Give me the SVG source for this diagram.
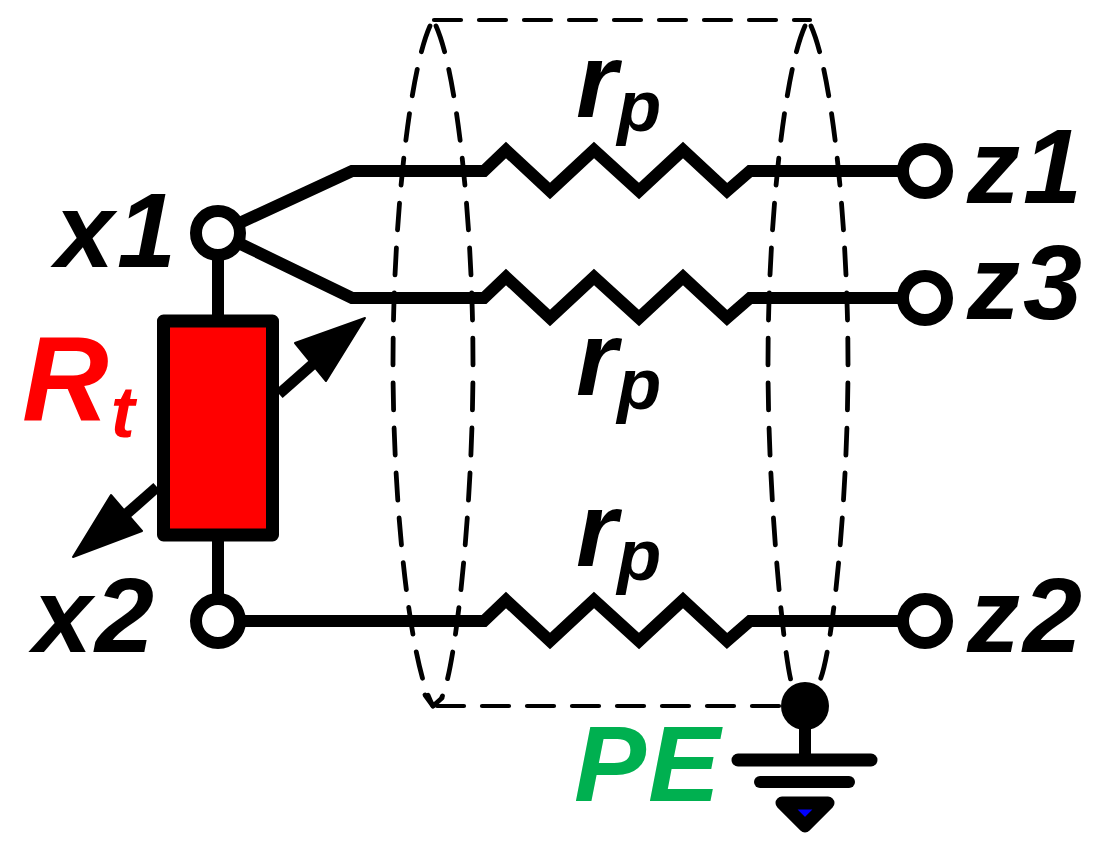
<svg xmlns="http://www.w3.org/2000/svg" width="1109" height="843" viewBox="0 0 1109 843">
<style>
text{font-family:"Liberation Sans",Arial,sans-serif;font-weight:bold;font-style:italic;fill:#000}
.w{fill:none;stroke:#000;stroke-width:12;stroke-linejoin:miter}
.d{fill:none;stroke:#000;stroke-width:4.2;stroke-linecap:round;stroke-dasharray:27 18}
.e{stroke-width:4.8}
.s{fill:none;stroke:#000;stroke-width:4.8;stroke-linecap:round;stroke-linejoin:round}
.t{fill:#fff;stroke:#000;stroke-width:12}
.m{font-size:106px}
.n{letter-spacing:3px}
.p{font-size:72px}
</style>
<rect width="1109" height="843" fill="#fff"/>
<g id="connectors">
<path class="w" d="M218 233L352 171H484L506 150L550 191L594 150L639 191L683 150L727 191L750 171H925"/>
<path class="w" d="M218 233L352 298H484L506 277L550 318L594 277L639 318L683 277L727 318L750 298H925"/>
<path class="w" d="M218 621H484L506 600L550 641L594 600L639 641L683 600L727 641L750 621H925"/>
<path class="w" d="M218 233V320M218 535V621M805 706V760"/>
<path d="M279 394L313 364" stroke="#000" stroke-width="11" fill="none"/>
<path d="M157 487L123 517" stroke="#000" stroke-width="11" fill="none"/>
<polygon points="365,318 295,343 326,381" fill="#000" stroke="#000" stroke-width="2" stroke-linejoin="round"/>
<polygon points="73,557 111,495 142,531" fill="#000" stroke="#000" stroke-width="2" stroke-linejoin="round"/>
</g>
<g id="cable">
<path class="d e" stroke-dashoffset="-7" d="M433 20C410 60 393 220 393 363C393 506 410 666 433 706"/>
<path class="d e" stroke-dashoffset="-7" d="M433 20C456 60 473 220 473 363C473 506 456 666 442 697"/>
<path class="d e" stroke-dashoffset="-7" d="M808 20C785 60 768 220 768 363C768 506 785 666 792 684"/>
<path class="d e" stroke-dashoffset="-7" d="M808 20C831 60 848 220 848 363C848 506 831 666 818 684"/>
<path class="d" d="M434 20H810"/>
<path class="d" d="M437 706H790"/>
<path class="s" d="M425 695L433 706L442 698"/>
</g>
<g id="Rt">
<rect x="163.5" y="321" width="109" height="214" fill="#f00" stroke="#000" stroke-width="13" stroke-linejoin="round"/>
<text x="22" y="421" style="font-size:120px;fill:#f00">R<tspan dy="16" dx="2" style="font-size:72px;fill:#f00">t</tspan></text>
</g>
<g id="x1"><circle class="t" cx="218" cy="233" r="22"/><text class="m n" x="55" y="267">x1</text></g>
<g id="x2"><circle class="t" cx="218" cy="621" r="22"/><text class="m n" x="33" y="652">x2</text></g>
<g id="z1"><circle class="t" cx="925" cy="171" r="22"/><text class="m n" x="967" y="203">z1</text></g>
<g id="z3"><circle class="t" cx="925" cy="298" r="22"/><text class="m n" x="967" y="319">z3</text></g>
<g id="z2"><circle class="t" cx="925" cy="621" r="22"/><text class="m n" x="967" y="652">z2</text></g>
<g id="rp1"><text class="m" x="576" y="117">r<tspan class="p" dy="14">p</tspan></text></g>
<g id="rp2"><text class="m" x="576" y="395">r<tspan class="p" dy="14">p</tspan></text></g>
<g id="rp3"><text class="m" x="576" y="566">r<tspan class="p" dy="14">p</tspan></text></g>
<g id="PE">
<circle cx="805" cy="706" r="24" fill="#000"/>
<path d="M738 760H871" stroke="#000" stroke-width="13" stroke-linecap="round"/>
<path d="M760 782H849" stroke="#000" stroke-width="12" stroke-linecap="round"/>
<polygon points="782,803 828,803 805,826" fill="#00f" stroke="#000" stroke-width="13" stroke-linejoin="round"/>
<text x="574" y="801" style="font-size:108px;letter-spacing:2px;fill:#00b050">PE</text>
</g>
</svg>
